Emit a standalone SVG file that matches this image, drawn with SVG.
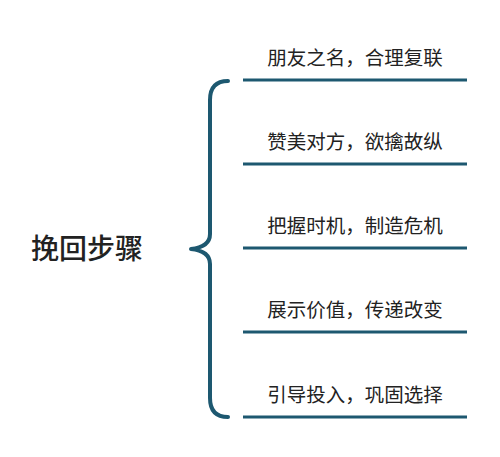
<svg xmlns="http://www.w3.org/2000/svg" width="500" height="457" viewBox="0 0 500 457">
<style>
.t{font-family:"Noto Sans CJK SC","Noto Sans",sans-serif;fill:#222;}
.s{font-size:19.5px;}
.ln{stroke:#1d5870;stroke-width:3;fill:none;}
.br{stroke:#1d5870;stroke-width:4;fill:none;stroke-linecap:round;stroke-linejoin:round;}
</style>
<rect width="500" height="457" fill="#fff"/>
<g id="title"><text class="t" x="87" y="259" font-size="28" text-anchor="middle" font-weight="500">挽回步骤</text></g>
<g id="connectors">
<path class="br" d="M228,81 Q210,81 210,100 L210,234 Q210,247 191,249 Q210,251 210,264 L210,398 Q210,417 228,417"/>
<line class="ln" x1="243" y1="80" x2="467" y2="80"/>
<line class="ln" x1="243" y1="164" x2="467" y2="164"/>
<line class="ln" x1="243" y1="248" x2="467" y2="248"/>
<line class="ln" x1="243" y1="332" x2="467" y2="332"/>
<line class="ln" x1="243" y1="417" x2="467" y2="417"/>
</g>
<g id="n1"><text class="t s" x="355" y="65" text-anchor="middle">朋友之名，合理复联</text></g>
<g id="n2"><text class="t s" x="355" y="149" text-anchor="middle">赞美对方，欲擒故纵</text></g>
<g id="n3"><text class="t s" x="355" y="233" text-anchor="middle">把握时机，制造危机</text></g>
<g id="n4"><text class="t s" x="355" y="317" text-anchor="middle">展示价值，传递改变</text></g>
<g id="n5"><text class="t s" x="355" y="402" text-anchor="middle">引导投入，巩固选择</text></g>
</svg>
